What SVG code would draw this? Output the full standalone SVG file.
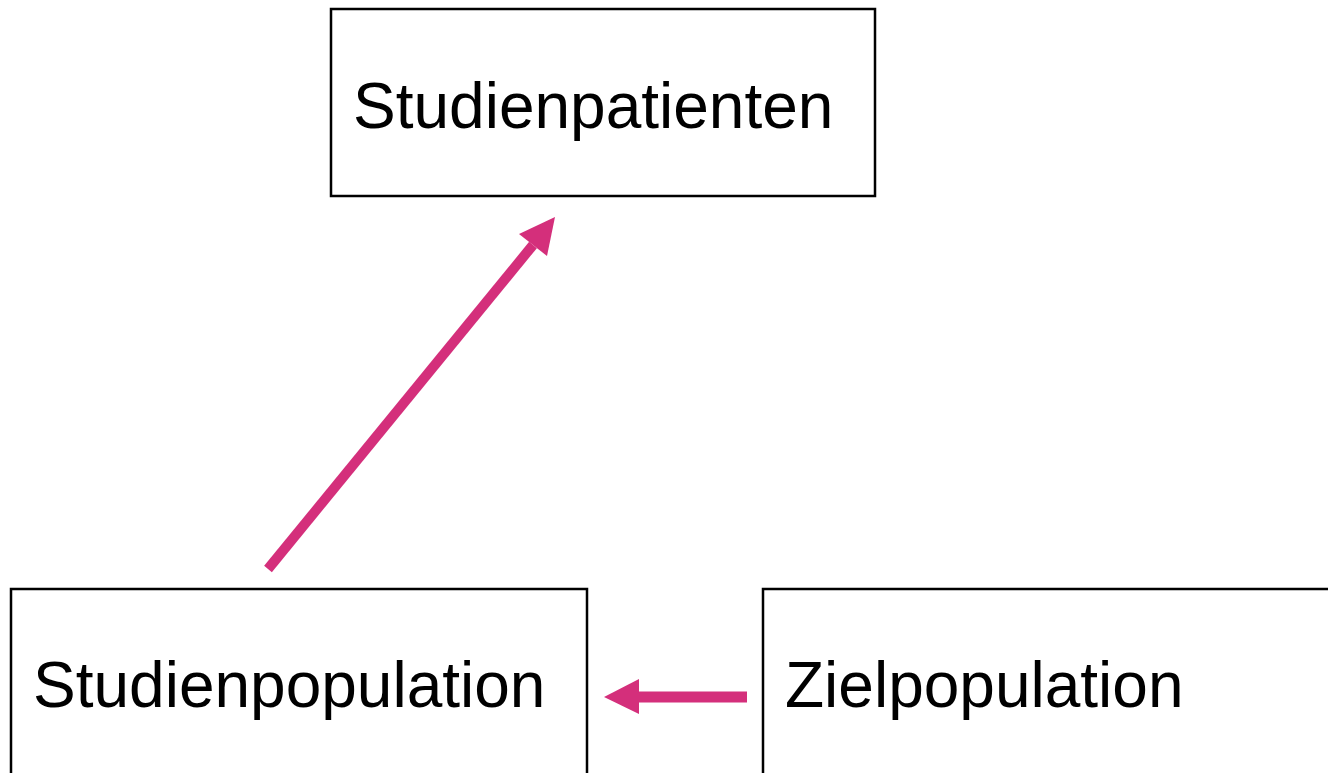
<svg xmlns="http://www.w3.org/2000/svg" width="1328" height="773" viewBox="0 0 1328 773">
<style>
.box{fill:#fff;stroke:#000;stroke-width:2.5}
.lbl{font-family:"Liberation Sans",Arial,sans-serif;font-size:64px;fill:#000}
.conn{stroke:#d42f7b;fill:none}
.head{fill:#d42f7b}
</style>
<rect width="1328" height="773" fill="#fff"/>
<g id="studienpatienten">
<rect class="box" x="331" y="9" width="544" height="187"/>
<text class="lbl" x="353" y="128">Studienpatienten</text>
</g>
<g id="studienpopulation">
<rect class="box" x="11" y="589" width="576" height="200"/>
<text class="lbl" x="33" y="707">Studienpopulation</text>
</g>
<g id="zielpopulation">
<rect class="box" x="763" y="589" width="580" height="200"/>
<text class="lbl" x="785" y="707">Zielpopulation</text>
</g>
<g id="connectors">
<line class="conn" x1="268" y1="569" x2="533" y2="245" stroke-width="10"/>
<polygon class="head" points="555,217 547,256 519,234"/>
<line class="conn" x1="747" y1="697" x2="636" y2="697" stroke-width="11"/>
<polygon class="head" points="604,697 639,679 639,714"/>
</g>
</svg>
